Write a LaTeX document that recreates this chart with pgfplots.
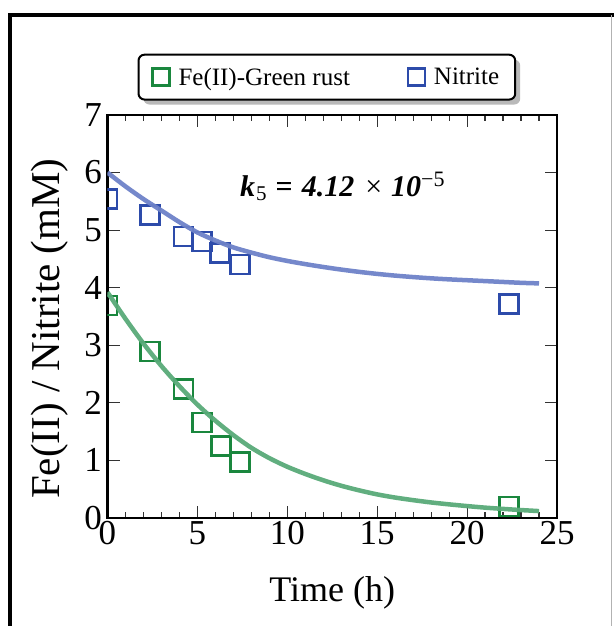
\documentclass[border=0pt]{standalone}
\usepackage{pgfplots}
\pgfplotsset{compat=1.18}
\usepackage{fontspec}
\setmainfont{Liberation Serif}
\usetikzlibrary{shadows}
\definecolor{gmark}{RGB}{26,135,62}
\definecolor{gline}{RGB}{88,170,120}
\definecolor{bmark}{RGB}{45,75,170}
\definecolor{bline}{RGB}{110,130,200}
\begin{document}
\begin{tikzpicture}[x=1pt,y=1pt]
\useasboundingbox (-107.5,-108) rectangle (505.5,518);
\draw[line width=4pt] (-97.5,-120) -- (-97.5,503) -- (530,503);
\draw[gray!60, line width=1pt] (504,503) -- (504,-120);
\begin{axis}[
  anchor=south west,
  scale only axis, width=449.5pt, height=403pt,
  xmin=0, xmax=25, ymin=0, ymax=7,
  xtick={0,5,...,25}, ytick={0,1,...,7},
  minor x tick num=4,
  tick align=inside,
  major tick length=12pt, minor tick length=6pt,
  axis line style={line width=2.5pt},
  every tick/.style={black!80, line width=1.2pt},
  /pgf/number format/assume math mode=true,
  ticklabel style={font=\fontsize{35}{35}\selectfont},
  yticklabel style={xshift=-2pt},
  xlabel={Time (h)},
  ylabel={Fe(II) / Nitrite (mM)},
  xlabel style={font=\fontsize{36}{36}\selectfont, at={(rel axis cs:0.5,0)}, anchor=base, yshift=-83.7pt},
  ylabel style={font=\fontsize{41}{41}\selectfont, at={(rel axis cs:0,0.470)}, anchor=base, yshift=47.5pt},
  legend columns=2,
  legend image post style={mark size=8.5pt},
  legend style={at={(rel axis cs:0.488,1.094)}, anchor=center,
    draw=black, line width=2pt, rounded corners=6pt,
    drop shadow={shadow xshift=5pt, shadow yshift=-5pt, fill=gray!55, opacity=1},
    font=\fontsize{25}{25}\selectfont,
    inner xsep=14pt, inner ysep=11pt,
    /tikz/every odd column/.append style={column sep=7pt},
    /tikz/every even column/.append style={column sep=56pt}},
  clip=true, clip marker paths=true,
]
\addplot[only marks, mark=square, mark size=9.5pt, gmark, mark options={line width=2.6pt}]
  coordinates {(0,3.69) (2.37,2.89) (4.22,2.24) (5.24,1.66) (6.30,1.25) (7.37,0.97) (22.33,0.20)};
\addlegendentry{Fe(II)-Green rust}
\addplot[only marks, mark=square, mark size=9.5pt, bmark, mark options={line width=2.6pt}]
  coordinates {(0,5.54) (2.37,5.26) (4.22,4.89) (5.24,4.80) (6.26,4.60) (7.37,4.40) (22.33,3.72)};
\addlegendentry{Nitrite}
\addplot[forget plot, smooth, gline, line width=4.5pt, opacity=0.95] coordinates {
 (0,3.92) (1,3.46) (2,3.03) (3,2.64) (4,2.29) (5,1.97) (6,1.69) (7,1.44) (8,1.22) (9,1.04)
 (10,0.89) (11,0.765) (12,0.655) (13,0.56) (14,0.48) (15,0.41) (16,0.355) (17,0.31) (18,0.27)
 (19,0.237) (20,0.207) (21,0.18) (22,0.158) (23,0.138) (24,0.12)};
\addplot[forget plot, smooth, bline, line width=4.5pt, opacity=0.95] coordinates {
 (0,6.00) (1,5.76) (2,5.54) (3,5.34) (4,5.14) (5,4.96) (6,4.82) (7,4.70) (8,4.61) (9,4.53)
 (10,4.465) (11,4.41) (12,4.36) (13,4.315) (14,4.275) (15,4.24) (16,4.21) (17,4.185) (18,4.163)
 (19,4.145) (20,4.13) (21,4.115) (22,4.10) (23,4.085) (24,4.075)};
\node[anchor=base west, inner sep=0pt, font=\fontsize{30}{30}\selectfont] at (axis cs:7.37,5.58)
 {\textbf{\textit{k}}\hspace{1pt}\raisebox{-0.25ex}{\fontsize{21}{21}\selectfont 5}\hspace{9pt}\textbf{=}\hspace{9pt}\textbf{\textit{4.12}}\hspace{11pt}×\hspace{9pt}\textbf{\textit{10}}\raisebox{0.75ex}{\fontsize{22}{22}\selectfont −5}};
\end{axis}
\end{tikzpicture}
\end{document}
